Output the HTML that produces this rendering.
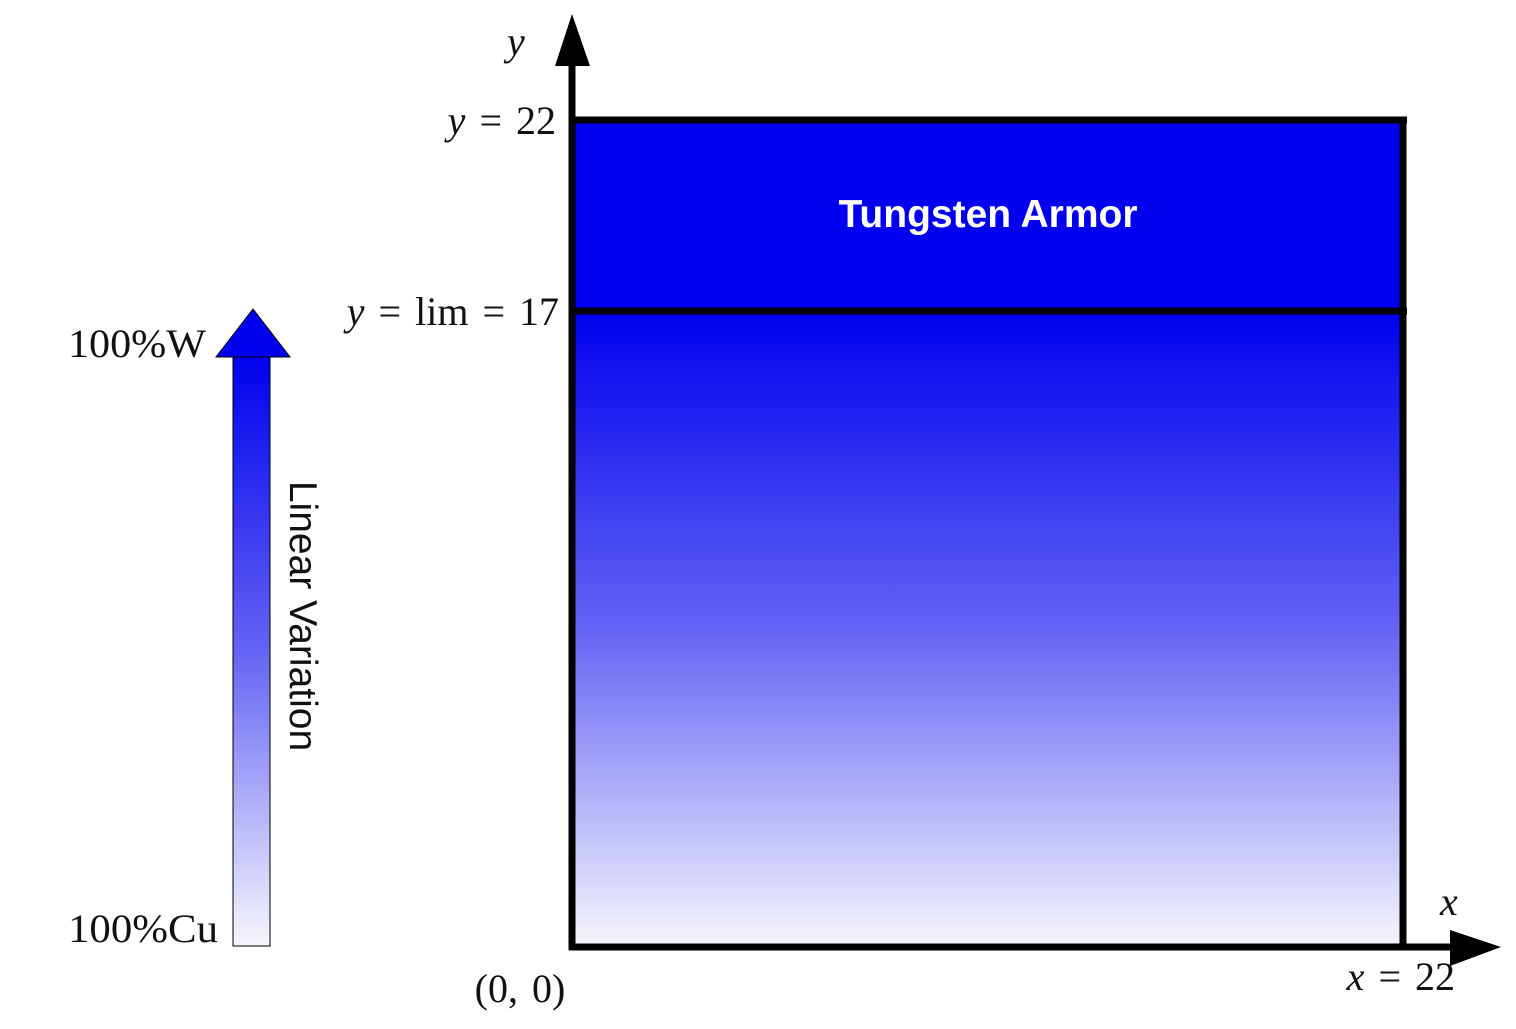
<!DOCTYPE html>
<html><head><meta charset="utf-8"><style>
html,body{margin:0;padding:0;background:#fff;width:1516px;height:1029px;overflow:hidden}
svg{display:block}
.m{font-family:"Liberation Serif",serif;font-size:40px;fill:#111}
.i{font-style:italic}
</style></head><body>
<svg width="1516" height="1029" viewBox="0 0 1516 1029">
<defs>
<linearGradient id="g" x1="0" y1="0" x2="0" y2="1">
<stop offset="0" stop-color="#0000ee"/><stop offset="0.5" stop-color="#6464f4"/><stop offset="1" stop-color="#f6f6fd"/>
</linearGradient>
</defs>
<rect x="572" y="311" width="831" height="636" fill="url(#g)"/>
<rect x="572" y="120" width="831" height="191" fill="#0000ee"/>
<g stroke="#000" stroke-width="7" fill="none">
<line x1="569" y1="120" x2="1407" y2="120"/>
<line x1="569" y1="311" x2="1407" y2="311"/>
<line x1="1403" y1="117" x2="1403" y2="947"/>
<line x1="572" y1="60" x2="572" y2="950"/>
<line x1="569" y1="947" x2="1460" y2="947"/>
</g>
<polygon points="572,14 555,66 590,66" fill="#000"/>
<polygon points="1501,947 1450,930 1450,966" fill="#000"/>
<text x="988" y="227" text-anchor="middle" font-family="Liberation Sans,sans-serif" font-weight="bold" font-size="39" fill="#fff">Tungsten Armor</text>
<text class="m i" x="507" y="55" font-size="46">y</text>
<text class="m i" x="1440" y="915" font-size="46">x</text>
<text class="m" x="556" y="134" text-anchor="end"><tspan class="i">y</tspan> <tspan dx="4">=</tspan> <tspan dx="4">22</tspan></text>
<text class="m" x="559" y="325" text-anchor="end"><tspan class="i">y</tspan> <tspan dx="4">=</tspan> <tspan dx="4">lim</tspan> <tspan dx="4">=</tspan> <tspan dx="4">17</tspan></text>
<text class="m" x="520" y="1002" text-anchor="middle">(0, <tspan dx="4">0)</tspan></text>
<text class="m" x="1455" y="990" text-anchor="end"><tspan class="i">x</tspan> <tspan dx="4">=</tspan> <tspan dx="4">22</tspan></text>
<rect x="233" y="356" width="37" height="590" fill="url(#g)" stroke="#000" stroke-width="1"/>
<polygon points="253,309 216,357 290,357" fill="#0000ee" stroke="#000" stroke-width="1"/>
<text class="m" x="68" y="357" textLength="138" lengthAdjust="spacingAndGlyphs">100%W</text>
<text class="m" x="68" y="942" textLength="150" lengthAdjust="spacingAndGlyphs">100%Cu</text>
<text transform="translate(290,616) rotate(90)" text-anchor="middle" font-family="Liberation Sans,sans-serif" font-size="39" fill="#111">Linear Variation</text>
</svg>
</body></html>
